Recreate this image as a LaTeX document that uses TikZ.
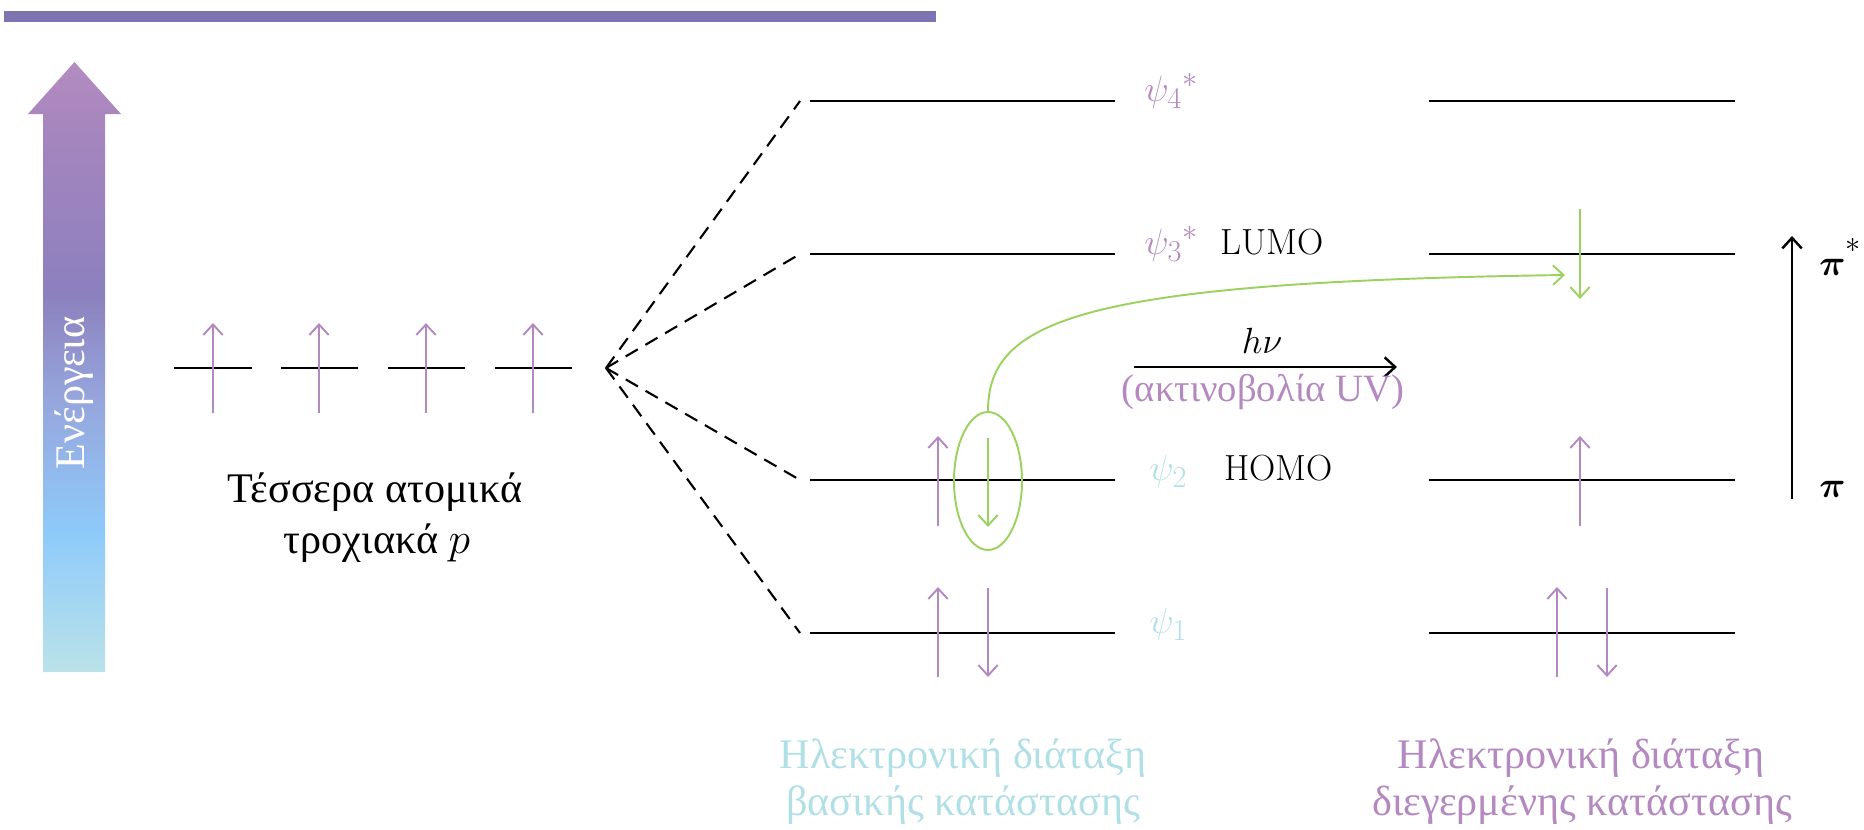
\documentclass[tikz,border=0pt]{standalone}
\usepackage{amsmath}
\usepackage{fontspec}
\newfontfamily\gr{Liberation Serif}
\DeclareMathSizes{20.7}{20.7}{17}{13}
\usetikzlibrary{arrows.meta,shapes.geometric}
\definecolor{barcol}{RGB}{126,116,178}
\definecolor{lilac}{RGB}{180,137,192}
\definecolor{pcyan}{RGB}{176,224,230}
\definecolor{lgreen}{RGB}{155,210,95}
\definecolor{e0}{RGB}{186,226,232}
\definecolor{e1}{RGB}{142,202,250}
\definecolor{e2}{RGB}{150,165,220}
\definecolor{e3}{RGB}{140,128,190}
\definecolor{e4}{RGB}{168,134,190}
\definecolor{e5}{RGB}{180,140,192}
\pgfdeclareverticalshading{energyshade}{100bp}{color(0bp)=(e0); color(25bp)=(e0); color(36.5bp)=(e1); color(47.5bp)=(e2); color(56bp)=(e3); color(70.5bp)=(e4); color(75bp)=(e5); color(100bp)=(e5)}
\begin{document}
\begin{tikzpicture}[x=0.02cm,y=-0.02cm,
  lev/.style={line width=1.5pt},
  parr/.style={draw=lilac,line width=1.1pt,-{Straight Barb[length=6pt,width=11pt]}},
  garr/.style={draw=lgreen,line width=1.1pt,-{Straight Barb[length=6pt,width=11pt]}},
  karr/.style={draw=black,line width=1.4pt,-{Straight Barb[length=6pt,width=11pt]}},
  dsh/.style={line width=1.2pt,dash pattern=on 8pt off 5pt},
  lmf/.style={inner sep=0pt,font=\fontsize{20.7}{25}\selectfont},
  grk/.style={inner sep=0pt,font=\gr\fontsize{24}{28}\selectfont},
  grks/.style={inner sep=0pt,font=\gr\fontsize{22}{26}\selectfont}]
\useasboundingbox (0,0) rectangle (1864,829);
% top bar
\fill[barcol] (4,11) rectangle (936,22);
% energy arrow
\shade[shading=energyshade] (43,672) -- (43,114) -- (28,114) -- (74.5,62) -- (121,114) -- (105,114) -- (105,672) -- cycle;
\node[grk,rotate=90,text=white] (energy) at (74,393) {Ενέργεια};
% atomic p orbitals
\foreach \a/\b/\m [count=\i] in {174/252/213,281/358/319,388/465/426,495/572/533}{
  \coordinate (pL\i) at (\a,368);
  \coordinate (pR\i) at (\b,368);
  \coordinate (pA\i) at (\m,413);
  \coordinate (pB\i) at (\m,323);
  \draw[lev] (pL\i) -- (pR\i);
  \draw[parr] (pA\i) -- (pB\i);
}
\node[grk,anchor=base] (ptA) at (375,502) {Τέσσερα ατομικά};
\node[grk,anchor=base] (ptB) at (377,553) {τροχιακά $p$};
% convergence
\coordinate (conv) at (606,368);
% ground state MO levels
\foreach \y [count=\i] in {633,480,254,101}{
  \coordinate (gL\i) at (810,\y);
  \coordinate (gR\i) at (1115,\y);
  \coordinate (gD\i) at (800,\y);
  \coordinate (eL\i) at (1429,\y);
  \coordinate (eR\i) at (1735,\y);
  \draw[lev] (gL\i) -- (gR\i);
  \draw[lev] (eL\i) -- (eR\i);
  \draw[dsh] (conv) -- (gD\i);
}
% labels
\node[lmf,anchor=base west,text=lilac] (psi4) at (1144,101) {${\psi_4}^{*}$};
\node[lmf,anchor=base west,text=lilac] (psi3) at (1144,254) {${\psi_3}^{*}$};
\node[lmf,anchor=base west] (lumo) at (1220,254) {LUMO};
\node[lmf,anchor=base west,text=pcyan] (psi2) at (1149,480) {$\psi_2$};
\node[lmf,anchor=base west] (homo) at (1224,480) {HOMO};
\node[lmf,anchor=base west,text=pcyan] (psi1) at (1149,633) {$\psi_1$};
% ground state electrons
\coordinate (g2ua) at (938,526); \coordinate (g2ub) at (938,436);
\draw[parr] (g2ua) -- (g2ub);
\coordinate (g2da) at (988,438); \coordinate (g2db) at (988,527);
\draw[garr] (g2da) -- (g2db);
\coordinate (g1ua) at (938,677); \coordinate (g1ub) at (938,587);
\draw[parr] (g1ua) -- (g1ub);
\coordinate (g1da) at (988,588); \coordinate (g1db) at (988,677);
\draw[parr] (g1da) -- (g1db);
\node[ellipse,draw=lgreen,line width=1.1pt,minimum width=1.36cm,minimum height=2.76cm,inner sep=0pt] (ell) at (988,481) {};
% excited state electrons
\coordinate (e2ua) at (1580,526); \coordinate (e2ub) at (1580,436);
\draw[parr] (e2ua) -- (e2ub);
\coordinate (e1ua) at (1557,677); \coordinate (e1ub) at (1557,587);
\draw[parr] (e1ua) -- (e1ub);
\coordinate (e1da) at (1607,588); \coordinate (e1db) at (1607,677);
\draw[parr] (e1da) -- (e1db);
\coordinate (e3da) at (1580,209); \coordinate (e3db) at (1580,299);
\draw[garr] (e3da) -- (e3db);
% transition curve
\coordinate (cend) at (1565,275);
\draw[garr] (ell.north) .. controls (988,320) and (1080,282) .. (cend);
% h nu arrow
\coordinate (hva) at (1134,367);
\coordinate (hvb) at (1397,367);
\draw[karr] (hva) -- (hvb);
\node[lmf,anchor=base] (hnu) at (1262,353) {$h\nu$};
\node[grks,anchor=base,text=lilac] (uv) at (1263,401) {(ακτινοβολία UV)};
% pi arrow
\coordinate (pia) at (1792,499);
\coordinate (pib) at (1792,236);
\draw[karr] (pia) -- (pib);
\node[lmf,anchor=base west] (pistar) at (1819,275) {$\boldsymbol{\pi}^{\raisebox{5pt}{$\scriptstyle *$}}$};
\node[lmf,anchor=base west] (pi) at (1819,497) {$\boldsymbol{\pi}$};
% bottom labels
\node[grk,anchor=base,text=pcyan] (gsA) at (963,768) {Ηλεκτρονική διάταξη};
\node[grk,anchor=base,text=pcyan] (gsB) at (963,815) {βασικής κατάστασης};
\node[grk,anchor=base,text=lilac] (esA) at (1581,768) {Ηλεκτρονική διάταξη};
\node[grk,anchor=base,text=lilac] (esB) at (1582,815) {διεγερμένης κατάστασης};
\end{tikzpicture}
\end{document}
